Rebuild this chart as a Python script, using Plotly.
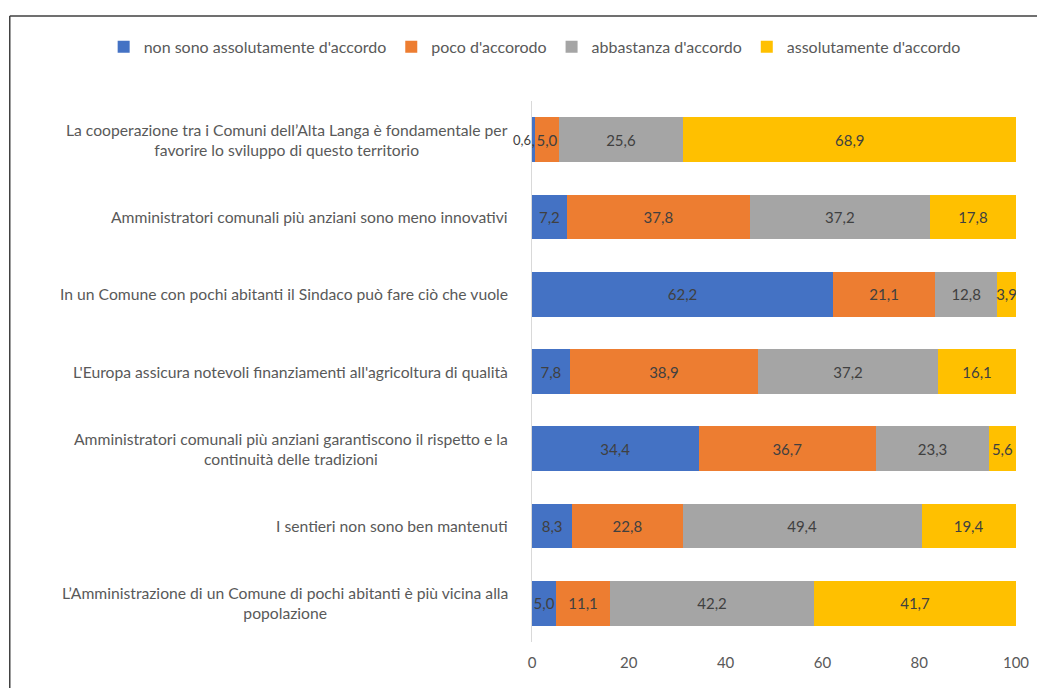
import plotly.graph_objects as go

categories = [
    "La cooperazione tra i Comuni dell\u2019Alta Langa è fondamentale per<br>favorire lo sviluppo di questo territorio",
    "Amministratori comunali più anziani sono meno innovativi",
    "In un Comune con pochi abitanti il Sindaco può fare ciò che vuole",
    "L'Europa assicura notevoli finanziamenti all'agricoltura di qualità",
    "Amministratori comunali più anziani garantiscono il rispetto e la<br>continuità delle tradizioni",
    "I sentieri non sono ben mantenuti",
    "L\u2019Amministrazione di un Comune di pochi abitanti è più vicina alla<br>popolazione",
]

series_names = ["non sono assolutamente d'accordo", "poco d'accorodo",
                "abbastanza d'accordo", "assolutamente d'accordo"]

non_accordo = [0.6, 7.2, 62.2, 7.8, 34.4, 8.3, 5.0]
poco_accordo = [5.0, 37.8, 21.1, 38.9, 36.7, 22.8, 11.1]
abbastanza = [25.6, 37.2, 12.8, 37.2, 23.3, 49.4, 42.2]
assolutamente = [68.9, 17.8, 3.9, 16.1, 5.6, 19.4, 41.7]

colors = ["#4472C4", "#ED7D31", "#A5A5A5", "#FFC000"]
values = [non_accordo, poco_accordo, abbastanza, assolutamente]

FONT = "Lato, 'Open Sans', sans-serif"

fig = go.Figure()
for name, vals, col in zip(series_names, values, colors):
    fig.add_trace(go.Bar(
        y=categories, x=vals, name=name, orientation="h",
        marker=dict(color=col, line=dict(width=0)),
        texttemplate="%{x:.1f}", textposition="inside",
        insidetextanchor="middle", textangle=0,
        textfont=dict(family=FONT, size=15, color="#404040"),
        constraintext="none",
    ))

# the tiny first blue segment: its label does not fit inside the bar
fig.add_annotation(
    x=non_accordo[0], y=categories[0], xref="x", yref="y",
    text=f"{non_accordo[0]:.1f}".replace(".", ","), showarrow=False,
    xanchor="right", xshift=-3, borderpad=0,
    font=dict(family=FONT, size=13, color="#404040"),
)

# category labels as annotations (centered multi-line text)
for cat in categories:
    fig.add_annotation(
        x=-0.035, xref="paper", y=cat, yref="y", xshift=-6,
        text=cat, showarrow=False, xanchor="right", align="center",
        borderpad=0, font=dict(family=FONT, size=15.7, color="#595959"),
    )

# outer frame (top and left edges visible)
fig.add_shape(type="line", xref="paper", yref="paper",
              x0=-1.079, x1=1.2, y0=1.157, y1=1.157,
              line=dict(color="#404040", width=1.5))
fig.add_shape(type="line", xref="paper", yref="paper",
              x0=-1.079, x1=-1.079, y0=1.157, y1=-0.2,
              line=dict(color="#404040", width=1.5))

fig.update_layout(
    barmode="stack",
    width=1045, height=688,
    margin=dict(l=524, r=37, t=93, b=54, autoexpand=False),
    paper_bgcolor="white", plot_bgcolor="white",
    separators=",.",
    bargap=0.42,
    uniformtext=dict(minsize=15, mode="show"),
    font=dict(family=FONT, size=15, color="#595959"),
    legend=dict(orientation="h", x=-0.885, xanchor="left", y=1.1, yanchor="middle",
                font=dict(family=FONT, size=16, color="#595959"),
                traceorder="normal", itemwidth=30, tracegroupgap=0),
    xaxis=dict(range=[0, 100], tickvals=[0, 20, 40, 60, 80, 100], showgrid=False,
               zeroline=False, showline=False, ticklabelstandoff=10,
               tickfont=dict(family=FONT, size=15, color="#595959")),
    yaxis=dict(categoryorder="array", categoryarray=categories[::-1],
               showticklabels=False, showgrid=False, zeroline=False,
               showline=True, linecolor="#D9D9D9", linewidth=1),
)

fig.write_html("out.html")
